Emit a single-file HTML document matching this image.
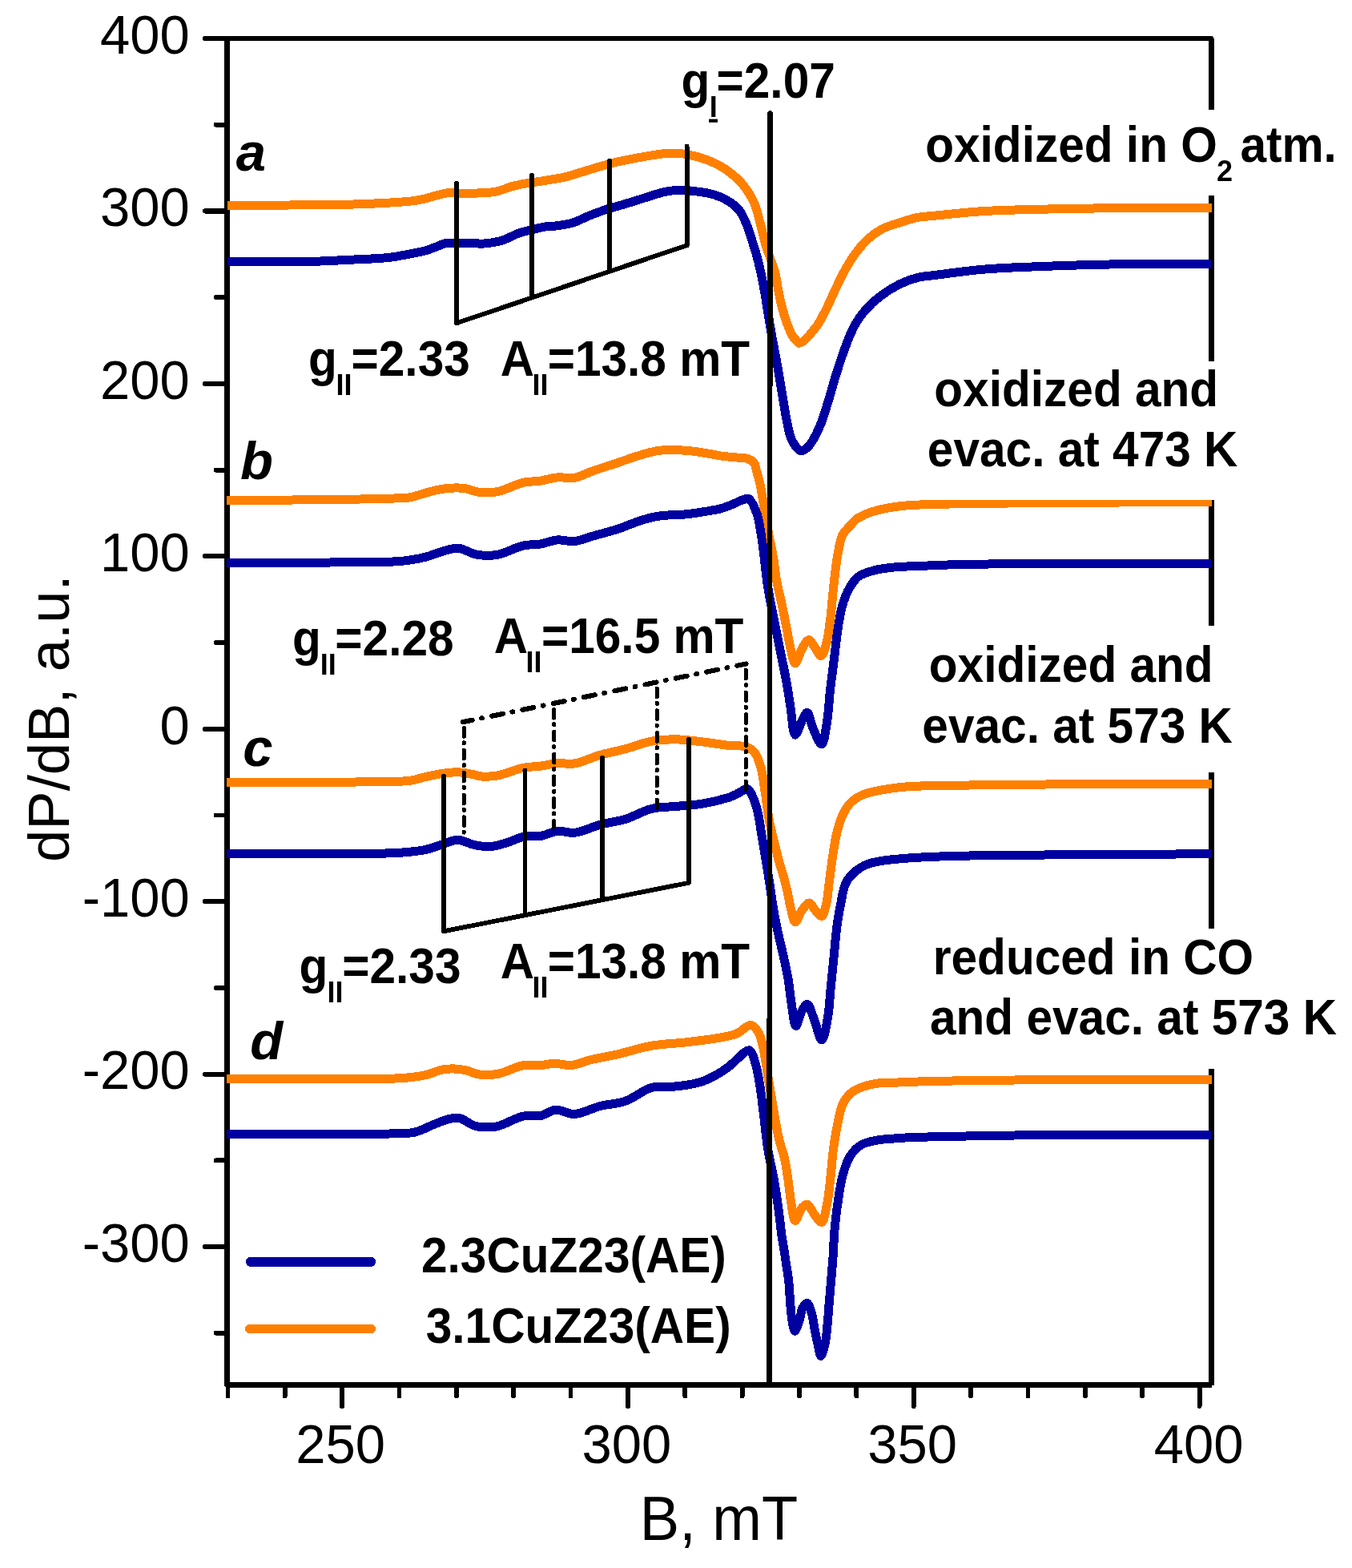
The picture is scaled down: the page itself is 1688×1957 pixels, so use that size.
<!DOCTYPE html>
<html><head><meta charset="utf-8"><title>EPR spectra</title>
<style>html,body{margin:0;padding:0;background:#fff;}svg{display:block;}</style>
</head><body>
<svg width="1688" height="1957" viewBox="0 0 1688 1957">
<rect width="1688" height="1957" fill="#fff"/>
<g font-family="'Liberation Sans', Arial, sans-serif" fill="#000">
<g shape-rendering="crispEdges">
<path d="M283.6 48.0 L283.6 1728.5 L1512.6 1728.5" fill="none" stroke="#000" stroke-width="6.7" stroke-linejoin="round"/>
<line x1="256.0" y1="48.0" x2="1512.6" y2="48.0" stroke="#000" stroke-width="5.8" stroke-linecap="round"/>
<line x1="1512.6" y1="48.0" x2="1512.6" y2="1728.5" stroke="#000" stroke-width="6.6" stroke-linecap="butt"/>
<line x1="256.0" y1="48.0" x2="283.6" y2="48.0" stroke="#000" stroke-width="6.2" stroke-linecap="round"/>
<line x1="256.0" y1="263.4" x2="283.6" y2="263.4" stroke="#000" stroke-width="6.2" stroke-linecap="round"/>
<line x1="256.0" y1="478.9" x2="283.6" y2="478.9" stroke="#000" stroke-width="6.2" stroke-linecap="round"/>
<line x1="256.0" y1="694.3" x2="283.6" y2="694.3" stroke="#000" stroke-width="6.2" stroke-linecap="round"/>
<line x1="256.0" y1="909.7" x2="283.6" y2="909.7" stroke="#000" stroke-width="6.2" stroke-linecap="round"/>
<line x1="256.0" y1="1125.2" x2="283.6" y2="1125.2" stroke="#000" stroke-width="6.2" stroke-linecap="round"/>
<line x1="256.0" y1="1340.6" x2="283.6" y2="1340.6" stroke="#000" stroke-width="6.2" stroke-linecap="round"/>
<line x1="256.0" y1="1556.0" x2="283.6" y2="1556.0" stroke="#000" stroke-width="6.2" stroke-linecap="round"/>
<line x1="269.5" y1="155.7" x2="283.6" y2="155.7" stroke="#000" stroke-width="5.8" stroke-linecap="round"/>
<line x1="269.5" y1="371.1" x2="283.6" y2="371.1" stroke="#000" stroke-width="5.8" stroke-linecap="round"/>
<line x1="269.5" y1="586.6" x2="283.6" y2="586.6" stroke="#000" stroke-width="5.8" stroke-linecap="round"/>
<line x1="269.5" y1="802.0" x2="283.6" y2="802.0" stroke="#000" stroke-width="5.8" stroke-linecap="round"/>
<line x1="269.5" y1="1017.4" x2="283.6" y2="1017.4" stroke="#000" stroke-width="5.8" stroke-linecap="round"/>
<line x1="269.5" y1="1232.9" x2="283.6" y2="1232.9" stroke="#000" stroke-width="5.8" stroke-linecap="round"/>
<line x1="269.5" y1="1448.3" x2="283.6" y2="1448.3" stroke="#000" stroke-width="5.8" stroke-linecap="round"/>
<line x1="269.5" y1="1663.7" x2="283.6" y2="1663.7" stroke="#000" stroke-width="5.8" stroke-linecap="round"/>
<line x1="284.4" y1="1728.5" x2="284.4" y2="1742.5" stroke="#000" stroke-width="5.8" stroke-linecap="round"/>
<line x1="355.7" y1="1728.5" x2="355.7" y2="1742.5" stroke="#000" stroke-width="5.8" stroke-linecap="round"/>
<line x1="427.1" y1="1728.5" x2="427.1" y2="1755.0" stroke="#000" stroke-width="6.0" stroke-linecap="round"/>
<line x1="498.5" y1="1728.5" x2="498.5" y2="1742.5" stroke="#000" stroke-width="5.8" stroke-linecap="round"/>
<line x1="569.8" y1="1728.5" x2="569.8" y2="1742.5" stroke="#000" stroke-width="5.8" stroke-linecap="round"/>
<line x1="641.2" y1="1728.5" x2="641.2" y2="1742.5" stroke="#000" stroke-width="5.8" stroke-linecap="round"/>
<line x1="712.5" y1="1728.5" x2="712.5" y2="1742.5" stroke="#000" stroke-width="5.8" stroke-linecap="round"/>
<line x1="783.9" y1="1728.5" x2="783.9" y2="1755.0" stroke="#000" stroke-width="6.0" stroke-linecap="round"/>
<line x1="855.3" y1="1728.5" x2="855.3" y2="1742.5" stroke="#000" stroke-width="5.8" stroke-linecap="round"/>
<line x1="926.6" y1="1728.5" x2="926.6" y2="1742.5" stroke="#000" stroke-width="5.8" stroke-linecap="round"/>
<line x1="998.0" y1="1728.5" x2="998.0" y2="1742.5" stroke="#000" stroke-width="5.8" stroke-linecap="round"/>
<line x1="1069.3" y1="1728.5" x2="1069.3" y2="1742.5" stroke="#000" stroke-width="5.8" stroke-linecap="round"/>
<line x1="1140.7" y1="1728.5" x2="1140.7" y2="1755.0" stroke="#000" stroke-width="6.0" stroke-linecap="round"/>
<line x1="1212.1" y1="1728.5" x2="1212.1" y2="1742.5" stroke="#000" stroke-width="5.8" stroke-linecap="round"/>
<line x1="1283.4" y1="1728.5" x2="1283.4" y2="1742.5" stroke="#000" stroke-width="5.8" stroke-linecap="round"/>
<line x1="1354.8" y1="1728.5" x2="1354.8" y2="1742.5" stroke="#000" stroke-width="5.8" stroke-linecap="round"/>
<line x1="1426.1" y1="1728.5" x2="1426.1" y2="1742.5" stroke="#000" stroke-width="5.8" stroke-linecap="round"/>
<line x1="1497.5" y1="1728.5" x2="1497.5" y2="1755.0" stroke="#000" stroke-width="6.0" stroke-linecap="round"/>
<path d="M283.7 256.4 C309.8 256.3 334.8 256.3 362.0 256.0 C391.4 255.7 426.6 255.7 454.0 254.6 C476.1 253.7 500.4 252.5 514.0 250.9 C521.1 250.1 524.8 249.3 530.0 248.1 C535.1 247.0 539.9 245.2 544.8 244.0 C549.7 242.8 554.3 241.2 559.6 240.7 C565.6 240.1 572.6 241.3 578.9 241.3 C584.9 241.3 590.4 241.3 596.6 241.0 C603.6 240.7 611.6 240.6 618.9 239.2 C626.4 237.7 634.1 234.0 641.1 232.2 C647.3 230.6 652.8 229.6 658.9 228.5 C665.2 227.4 671.0 226.9 678.1 225.8 C686.9 224.4 699.6 222.4 707.7 220.4 C713.5 219.0 717.1 217.5 722.5 215.9 C729.2 213.9 737.3 211.4 744.7 209.2 C752.1 207.0 759.2 204.8 767.0 202.9 C775.5 200.8 784.0 199.2 793.7 197.4 C805.2 195.3 821.2 192.3 831.7 191.5 C839.1 191.0 844.3 191.1 850.6 191.7 C857.1 192.4 864.1 194.0 870.0 195.5 C875.2 196.9 879.6 198.3 884.3 200.2 C889.1 202.1 893.9 204.2 898.6 206.8 C903.5 209.6 908.3 212.8 912.9 216.5 C917.8 220.5 922.8 224.6 927.2 230.1 C932.4 236.5 937.8 244.8 941.5 253.0 C945.3 261.4 947.1 271.2 949.5 280.0 C951.7 288.2 953.3 296.6 955.5 304.0 C957.4 310.5 959.5 315.8 961.5 322.0 C963.7 328.5 966.4 335.2 968.1 342.0 C969.8 348.7 970.5 355.7 971.8 362.5 C973.2 369.3 974.4 376.1 976.2 382.9 C978.0 389.8 980.3 397.1 982.6 403.4 C984.6 408.9 986.8 415.1 989.0 418.7 C990.4 421.0 991.7 422.2 993.2 423.8 C994.6 425.4 996.0 427.9 997.7 428.2 C999.3 428.5 1001.3 426.9 1003.0 425.8 C1005.0 424.5 1006.9 422.4 1008.7 420.5 C1010.6 418.5 1012.2 416.3 1014.0 414.0 C1016.0 411.5 1018.0 409.6 1020.3 406.3 C1023.8 401.1 1028.2 392.5 1032.0 385.0 C1036.0 377.0 1039.7 368.0 1043.6 359.8 C1047.4 351.8 1051.0 344.0 1055.3 336.5 C1059.5 329.1 1063.9 321.7 1068.9 315.1 C1073.7 308.8 1078.7 302.6 1084.4 297.6 C1089.8 292.8 1095.5 288.8 1102.0 285.5 C1108.9 282.0 1117.5 279.7 1125.0 277.3 C1132.1 275.0 1139.2 272.6 1146.0 271.3 C1152.1 270.1 1156.0 270.3 1163.7 269.5 C1178.4 268.1 1205.2 265.0 1227.4 263.6 C1251.7 262.1 1278.3 261.7 1303.8 261.1 C1329.3 260.5 1354.7 260.1 1380.2 259.8 C1405.7 259.5 1433.1 259.6 1456.6 259.5 C1476.7 259.4 1493.9 259.4 1512.6 259.3" fill="none" stroke="#ff8000" stroke-width="11.0" stroke-linejoin="round"/>
<path d="M283.7 326.4 C320.6 326.3 368.0 326.8 394.5 326.2 C409.3 325.8 416.0 325.3 429.0 324.6 C445.7 323.7 470.5 323.2 486.5 321.3 C498.1 319.9 508.4 317.5 516.4 316.0 C521.8 315.0 525.4 314.5 530.0 313.2 C534.9 311.8 540.1 309.7 544.8 308.0 C549.0 306.5 551.7 304.5 556.7 303.6 C564.8 302.2 580.5 303.5 589.2 303.6 C595.1 303.7 598.6 304.4 604.0 304.0 C610.7 303.5 619.0 302.4 626.3 300.3 C633.8 298.1 641.8 293.0 648.5 290.7 C653.9 288.9 658.2 288.2 663.3 287.0 C668.7 285.7 674.8 283.9 680.0 283.1 C684.5 282.4 688.0 282.7 692.9 282.1 C699.3 281.3 707.8 280.3 715.1 278.1 C722.6 275.8 729.8 271.4 737.3 268.5 C744.7 265.6 752.3 262.9 759.6 260.6 C766.5 258.4 773.9 256.5 780.0 254.7 C785.0 253.2 788.0 252.2 793.7 250.5 C803.2 247.6 821.1 241.2 831.7 239.1 C839.0 237.7 844.3 237.2 850.6 237.2 C857.0 237.2 864.0 238.3 870.0 239.0 C875.1 239.6 879.6 240.1 884.3 241.2 C889.1 242.3 893.9 243.6 898.6 245.5 C903.5 247.5 908.6 250.2 912.9 253.3 C916.9 256.2 920.5 259.2 923.6 263.3 C927.1 267.9 929.7 274.1 932.2 280.1 C935.0 286.7 937.2 294.5 939.4 301.6 C941.6 308.5 943.7 315.1 945.5 322.0 C947.4 328.9 949.0 336.0 950.5 343.0 C952.0 350.0 953.3 357.1 954.5 364.0 C955.7 370.7 956.7 377.3 957.8 384.0 C958.9 390.7 959.9 397.4 961.0 404.0 C962.1 410.6 963.3 417.2 964.5 423.8 C965.7 430.5 967.1 437.4 968.3 444.0 C969.5 450.4 970.6 456.2 971.8 463.0 C973.2 470.8 974.5 479.1 976.0 488.0 C977.7 498.2 979.5 510.7 981.5 520.9 C983.3 529.9 984.9 539.7 987.3 546.1 C988.9 550.3 990.3 553.2 992.5 556.0 C994.6 558.7 997.4 562.6 1000.0 562.9 C1002.4 563.2 1005.2 560.9 1007.5 559.0 C1010.1 556.8 1012.2 553.7 1014.5 550.0 C1017.7 544.9 1021.2 537.8 1024.2 530.6 C1027.8 522.0 1030.8 511.5 1033.9 501.5 C1037.2 490.9 1040.1 479.5 1043.6 468.4 C1047.2 456.9 1051.2 444.3 1055.3 433.5 C1059.0 423.8 1062.4 414.4 1066.9 406.3 C1070.9 399.1 1075.2 393.0 1080.5 386.9 C1086.1 380.5 1092.9 374.4 1100.0 369.0 C1107.3 363.5 1115.9 358.2 1124.0 354.3 C1131.4 350.7 1139.4 347.9 1146.5 346.2 C1152.5 344.7 1156.2 344.9 1163.7 343.9 C1178.2 342.1 1205.2 338.1 1227.4 336.2 C1251.7 334.1 1278.3 333.4 1303.8 332.4 C1329.3 331.4 1354.7 330.6 1380.2 330.1 C1405.7 329.6 1433.1 329.7 1456.6 329.6 C1476.7 329.5 1493.9 329.4 1512.6 329.3" fill="none" stroke="#0000a0" stroke-width="11.0" stroke-linejoin="round"/>
<path d="M283.0 624.4 C322.3 624.2 365.2 624.2 400.8 623.8 C430.2 623.4 461.0 622.9 481.4 622.2 C493.9 621.8 502.6 622.3 511.6 620.8 C519.1 619.6 525.1 616.9 531.8 615.1 C538.5 613.4 545.3 611.3 551.9 610.3 C558.1 609.3 564.6 608.9 570.0 608.9 C574.4 608.9 577.8 609.1 582.1 609.9 C587.1 610.8 592.3 613.7 598.2 614.4 C605.1 615.2 613.1 615.2 621.3 613.6 C631.2 611.7 643.6 604.5 653.3 602.3 C661.0 600.6 667.5 601.2 674.6 600.1 C681.7 599.0 688.8 596.5 696.0 595.9 C703.1 595.3 710.3 597.5 717.3 596.3 C724.5 595.1 730.8 591.2 738.6 588.4 C748.2 585.0 759.9 581.3 770.6 577.7 C781.3 574.2 793.0 569.8 802.6 567.1 C810.4 564.9 816.0 563.1 823.9 562.2 C833.4 561.1 845.3 561.5 855.9 562.2 C866.6 562.9 879.8 565.4 887.9 566.7 C892.9 567.5 895.5 568.3 900.0 569.0 C905.5 569.8 912.7 570.4 918.4 570.9 C923.3 571.4 928.2 570.8 932.2 572.1 C935.7 573.2 939.4 575.0 941.4 577.6 C943.3 580.0 943.3 583.2 944.3 586.8 C945.8 591.9 947.8 599.0 949.2 605.2 C950.5 611.3 951.4 617.5 952.4 623.6 C953.4 629.7 954.1 635.3 955.2 642.0 C956.6 650.3 958.5 660.4 960.3 669.6 C962.1 678.8 964.2 688.0 965.8 697.2 C967.3 706.4 967.9 715.4 969.6 724.8 C971.4 734.6 974.2 744.9 976.3 754.8 C978.4 764.6 980.3 774.5 982.1 783.9 C983.8 792.6 985.1 801.4 987.0 809.1 C988.7 815.9 990.4 827.7 992.8 827.9 C995.3 828.1 998.4 814.3 1001.6 809.1 C1004.1 805.0 1007.0 798.8 1009.7 798.7 C1012.2 798.7 1014.7 804.3 1017.1 807.5 C1019.7 810.9 1022.6 818.8 1024.9 818.6 C1027.5 818.3 1029.9 809.3 1031.7 803.3 C1034.1 795.3 1035.1 784.6 1036.5 774.2 C1038.1 762.2 1039.0 748.2 1040.4 735.3 C1041.9 722.3 1043.1 708.5 1045.2 696.5 C1047.1 686.1 1048.4 674.6 1052.0 667.4 C1054.6 662.3 1058.7 659.4 1061.7 656.0 C1064.1 653.2 1066.0 650.5 1068.4 648.5 C1070.6 646.7 1072.9 645.7 1075.3 644.5 C1077.7 643.2 1079.9 642.1 1082.7 641.0 C1086.2 639.6 1090.3 638.2 1094.8 637.0 C1100.5 635.5 1107.4 634.1 1114.2 633.0 C1121.7 631.8 1127.5 631.2 1138.0 630.5 C1158.2 629.2 1192.4 628.9 1227.0 628.3 C1275.2 627.5 1348.5 627.3 1400.0 627.0 C1441.7 626.8 1475.3 626.7 1513.0 626.5" fill="none" stroke="#ff8000" stroke-width="11.0" stroke-linejoin="round"/>
<path d="M283.0 702.3 C335.7 702.2 400.8 702.5 441.1 701.9 C466.0 701.5 484.9 701.9 501.5 700.3 C513.4 699.1 522.8 697.4 531.8 695.1 C539.3 693.2 545.1 690.2 551.9 688.4 C558.5 686.6 565.4 683.7 572.0 684.2 C578.8 684.7 587.0 690.1 592.2 691.5 C595.4 692.3 596.7 692.7 600.0 692.9 C605.3 693.3 613.6 693.7 621.3 692.3 C631.0 690.5 643.6 683.1 653.3 681.0 C661.0 679.3 667.5 680.2 674.6 679.0 C681.8 677.8 688.8 674.5 696.0 673.9 C703.1 673.4 710.3 676.3 717.3 675.6 C724.5 674.9 730.8 671.7 738.6 669.5 C748.2 666.8 760.0 663.9 770.6 660.5 C781.3 657.0 792.9 651.7 802.6 648.8 C810.3 646.5 816.0 645.0 823.9 643.9 C833.4 642.5 845.3 643.0 855.9 641.9 C866.6 640.8 879.8 638.6 887.9 637.2 C892.9 636.3 895.9 635.9 900.0 634.8 C904.5 633.5 909.2 631.6 913.8 629.8 C918.4 628.0 923.6 624.9 927.6 623.8 C930.4 623.0 932.7 621.5 935.0 622.7 C938.9 624.7 942.9 635.5 945.3 642.0 C947.5 648.1 948.1 654.3 949.2 660.4 C950.3 666.5 951.1 672.7 952.0 678.8 C952.8 684.9 953.5 690.4 954.3 697.2 C955.3 705.5 956.3 716.3 957.5 724.8 C958.5 732.1 959.4 737.2 960.8 745.0 C962.8 755.9 965.9 770.9 968.5 783.9 C971.1 796.8 973.9 810.7 976.3 822.7 C978.4 833.1 980.3 841.9 982.1 851.8 C983.9 862.0 985.3 872.3 987.0 882.9 C988.8 894.1 989.8 916.8 992.8 917.2 C995.1 917.5 998.8 904.0 1001.6 899.0 C1003.7 895.2 1005.8 889.2 1007.8 889.4 C1010.4 889.7 1012.2 902.5 1015.1 909.0 C1018.1 915.7 1023.0 929.3 1025.8 928.9 C1029.0 928.5 1030.9 910.7 1032.6 900.4 C1034.6 888.5 1035.0 874.5 1036.5 861.6 C1038.0 848.6 1039.8 835.7 1041.4 822.7 C1043.0 809.8 1044.3 795.9 1046.2 783.9 C1047.9 773.5 1049.4 763.4 1052.0 754.8 C1054.2 747.5 1056.5 741.2 1059.8 735.3 C1063.0 729.6 1066.5 723.7 1071.5 719.8 C1076.7 715.8 1084.0 713.9 1090.9 712.0 C1098.2 710.0 1105.5 709.1 1114.2 708.2 C1125.0 707.0 1137.7 706.9 1151.0 706.3 C1166.6 705.6 1182.0 704.9 1201.9 704.5 C1230.0 703.9 1263.8 703.7 1303.8 703.5 C1361.1 703.2 1443.3 703.4 1513.0 703.3" fill="none" stroke="#0000a0" stroke-width="11.0" stroke-linejoin="round"/>
<path d="M283.0 976.7 C308.9 976.7 332.4 976.8 360.6 976.7 C394.2 976.5 443.5 976.3 471.3 975.7 C488.1 975.3 500.5 975.8 511.6 974.3 C519.5 973.2 525.1 971.0 531.8 969.5 C538.5 968.0 545.2 966.5 551.9 965.5 C558.6 964.6 565.3 963.6 572.0 963.8 C578.7 964.0 587.1 965.8 592.2 966.9 C595.4 967.6 596.7 968.6 600.0 968.9 C605.3 969.4 613.6 969.2 621.3 967.9 C631.0 966.2 643.6 960.2 653.3 958.3 C661.0 956.8 667.5 957.0 674.6 956.1 C681.7 955.2 688.9 953.2 696.0 952.7 C703.1 952.2 709.6 954.1 717.3 952.9 C727.0 951.4 738.6 945.4 749.3 942.3 C759.9 939.3 770.7 937.4 781.3 934.6 C792.0 931.7 802.5 927.1 813.3 925.2 C823.9 923.3 834.6 922.8 845.3 922.9 C855.9 923.0 866.6 924.7 877.2 925.9 C887.9 927.1 899.3 929.2 909.2 930.3 C917.6 931.2 926.8 930.0 932.7 932.3 C937.0 934.0 940.0 936.4 942.7 940.0 C946.2 944.6 948.2 951.8 950.2 958.9 C952.5 967.3 953.4 977.1 955.0 987.3 C956.9 999.0 958.4 1013.5 960.6 1025.1 C962.6 1035.3 965.1 1044.5 967.3 1053.4 C969.2 1061.4 970.9 1068.9 972.9 1076.1 C974.7 1082.7 976.9 1088.7 978.6 1095.0 C980.3 1101.3 981.9 1107.6 983.3 1113.9 C984.7 1120.2 985.5 1126.6 987.1 1132.8 C988.7 1138.9 990.3 1150.6 992.8 1150.9 C995.1 1151.1 998.1 1140.2 1001.3 1136.0 C1004.1 1132.4 1007.6 1126.9 1010.4 1127.0 C1013.0 1127.1 1014.9 1132.8 1017.4 1135.5 C1020.0 1138.3 1023.6 1143.9 1025.9 1143.4 C1028.5 1142.8 1030.0 1134.7 1031.5 1129.0 C1033.5 1121.2 1034.0 1110.1 1035.3 1100.7 C1036.6 1091.2 1037.7 1081.7 1039.1 1072.3 C1040.5 1062.8 1041.8 1052.9 1043.8 1044.0 C1045.6 1036.0 1047.5 1028.2 1050.4 1021.3 C1053.0 1015.1 1055.8 1009.1 1059.9 1004.3 C1064.0 999.6 1069.4 995.7 1075.0 992.9 C1080.7 990.0 1087.3 988.8 1093.9 987.3 C1101.1 985.6 1109.4 984.5 1116.6 983.5 C1123.1 982.6 1127.4 982.1 1135.3 981.6 C1149.1 980.7 1170.0 980.6 1192.2 980.2 C1223.6 979.6 1262.4 979.3 1305.9 979.0 C1364.7 978.6 1444.0 978.5 1513.0 978.2" fill="none" stroke="#ff8000" stroke-width="11.0" stroke-linejoin="round"/>
<path d="M283.0 1065.8 C342.4 1065.7 423.0 1066.1 461.3 1065.4 C479.5 1065.1 489.2 1065.1 501.5 1064.1 C512.1 1063.3 522.2 1062.4 531.0 1060.5 C538.3 1059.0 544.0 1056.5 550.7 1054.5 C557.5 1052.4 564.6 1048.3 571.5 1048.3 C578.4 1048.3 585.2 1053.1 592.2 1054.5 C599.0 1055.9 606.0 1057.1 612.9 1056.6 C619.9 1056.1 626.8 1053.5 633.7 1051.4 C640.7 1049.3 647.4 1045.4 654.4 1044.1 C661.1 1042.9 667.8 1044.7 674.6 1043.6 C681.7 1042.5 688.8 1037.9 696.0 1037.2 C703.0 1036.5 709.6 1040.1 717.3 1039.3 C727.0 1038.3 738.6 1032.2 749.3 1029.3 C759.9 1026.5 770.8 1025.4 781.3 1022.2 C792.1 1018.9 802.4 1012.1 813.3 1009.5 C823.8 1006.9 834.6 1007.4 845.3 1006.3 C855.9 1005.2 866.6 1004.9 877.2 1003.1 C887.9 1001.3 901.7 997.9 909.2 995.5 C913.5 994.1 916.1 992.9 919.0 991.5 C921.6 990.2 923.6 988.7 926.0 987.5 C928.3 986.4 930.9 983.9 933.0 984.6 C936.0 985.5 938.7 992.0 940.8 996.7 C943.3 1002.1 944.9 1008.6 946.5 1015.6 C948.5 1024.0 949.6 1034.5 951.2 1044.0 C952.8 1053.4 954.3 1062.9 955.9 1072.3 C957.5 1081.8 959.0 1090.6 960.6 1100.7 C962.4 1112.4 964.2 1126.8 966.3 1138.5 C968.1 1148.6 970.0 1157.4 972.0 1166.8 C974.1 1176.3 976.5 1185.7 978.6 1195.2 C980.6 1204.7 982.7 1214.1 984.3 1223.6 C985.9 1233.0 986.5 1242.5 988.1 1251.9 C989.7 1261.4 991.2 1280.3 993.7 1280.5 C995.8 1280.7 998.4 1266.2 1001.3 1261.4 C1003.3 1258.0 1005.8 1253.3 1007.9 1253.6 C1010.9 1254.0 1013.6 1265.3 1016.4 1272.0 C1019.6 1279.9 1023.1 1298.1 1025.9 1298.0 C1028.8 1297.9 1031.6 1280.7 1033.4 1270.8 C1035.5 1259.3 1035.9 1245.6 1037.2 1233.0 C1038.5 1220.4 1039.7 1207.8 1041.0 1195.2 C1042.3 1182.6 1043.2 1169.1 1044.8 1157.4 C1046.2 1147.2 1047.6 1138.3 1049.5 1129.0 C1051.4 1119.9 1052.5 1109.2 1056.1 1102.0 C1059.0 1096.2 1063.0 1091.9 1067.4 1088.0 C1071.8 1084.1 1077.3 1081.0 1082.7 1078.7 C1088.1 1076.5 1093.6 1075.6 1100.0 1074.5 C1107.6 1073.2 1116.2 1072.5 1125.3 1071.7 C1135.9 1070.8 1147.3 1070.1 1160.0 1069.5 C1175.3 1068.8 1193.2 1068.4 1210.6 1068.0 C1229.0 1067.6 1244.6 1067.5 1267.5 1067.3 C1302.5 1067.0 1357.6 1066.6 1400.0 1066.3 C1439.2 1066.1 1475.3 1066.0 1513.0 1065.8" fill="none" stroke="#0000a0" stroke-width="11.0" stroke-linejoin="round"/>
<path d="M283.0 1346.8 C329.0 1346.7 381.2 1346.7 421.0 1346.4 C451.4 1346.2 481.1 1347.0 501.5 1345.6 C514.1 1344.7 522.8 1343.6 531.8 1341.6 C539.3 1339.9 545.7 1336.3 551.9 1335.1 C557.0 1334.1 561.1 1333.8 566.0 1333.9 C571.2 1334.0 576.8 1334.7 582.1 1335.9 C587.5 1337.1 592.3 1340.2 598.2 1341.0 C605.1 1342.0 613.1 1341.8 621.3 1340.4 C631.2 1338.7 643.6 1331.3 653.3 1329.7 C661.0 1328.4 667.9 1330.2 674.6 1329.7 C680.6 1329.3 685.7 1327.3 691.7 1327.2 C698.4 1327.1 705.6 1330.1 713.0 1329.5 C721.2 1328.8 729.6 1324.7 738.6 1322.5 C748.6 1320.1 759.2 1318.5 770.6 1315.9 C783.8 1312.9 799.0 1307.7 813.3 1305.2 C827.4 1302.7 841.7 1302.6 855.9 1300.9 C870.1 1299.2 886.9 1297.4 898.6 1295.2 C907.0 1293.6 913.3 1292.6 919.9 1289.9 C926.3 1287.3 932.7 1278.8 937.5 1279.4 C941.4 1279.9 944.7 1284.9 947.2 1289.1 C950.2 1294.2 951.3 1301.3 953.0 1308.5 C955.0 1317.2 956.3 1328.0 957.9 1337.7 C959.5 1347.4 961.1 1357.1 962.7 1366.8 C964.3 1376.5 965.8 1386.2 967.6 1395.9 C969.4 1405.6 971.2 1416.3 973.4 1425.0 C975.2 1432.2 977.5 1437.3 979.2 1444.5 C981.2 1453.2 982.6 1463.9 984.1 1473.6 C985.6 1483.3 986.4 1493.9 988.0 1502.7 C989.4 1510.2 990.4 1523.1 992.8 1523.4 C995.0 1523.7 998.3 1510.3 1001.6 1507.0 C1003.7 1504.9 1006.1 1502.9 1008.3 1503.4 C1011.4 1504.2 1014.0 1512.5 1017.1 1516.3 C1019.9 1519.7 1023.4 1526.0 1025.8 1525.4 C1029.1 1524.6 1030.9 1510.8 1032.6 1502.7 C1034.5 1493.7 1035.3 1484.0 1036.5 1473.6 C1037.9 1461.6 1038.8 1446.8 1040.4 1434.8 C1041.8 1424.4 1043.2 1415.1 1045.2 1405.6 C1047.1 1396.3 1048.6 1385.6 1052.0 1378.4 C1054.6 1372.8 1057.7 1368.5 1061.7 1364.9 C1065.5 1361.4 1070.2 1359.2 1075.3 1357.1 C1081.1 1354.8 1088.3 1353.1 1094.8 1352.2 C1101.2 1351.3 1108.7 1351.8 1114.2 1351.5 C1118.3 1351.3 1120.0 1351.0 1125.0 1350.8 C1136.5 1350.3 1161.1 1349.5 1182.0 1349.1 C1207.5 1348.6 1235.5 1348.2 1267.0 1348.0 C1306.4 1347.7 1357.5 1347.8 1400.0 1347.8 C1439.2 1347.8 1475.3 1347.8 1513.0 1347.8" fill="none" stroke="#ff8000" stroke-width="11.0" stroke-linejoin="round"/>
<path d="M283.0 1415.5 C349.1 1415.4 441.8 1416.2 481.4 1415.1 C498.4 1414.6 507.0 1415.5 517.7 1413.1 C526.7 1411.1 534.1 1406.3 541.8 1403.4 C548.8 1400.7 556.0 1397.4 562.0 1396.2 C566.5 1395.3 569.8 1394.8 574.1 1395.7 C579.7 1396.9 586.4 1403.2 592.2 1405.0 C597.1 1406.5 601.5 1406.7 606.3 1406.8 C611.2 1406.9 615.5 1407.0 621.3 1405.7 C630.1 1403.7 643.6 1395.1 653.3 1393.1 C661.0 1391.6 667.8 1393.9 674.6 1392.6 C681.3 1391.3 687.0 1385.7 693.8 1385.2 C701.2 1384.7 708.9 1390.8 717.3 1390.5 C727.2 1390.1 738.6 1383.2 749.3 1380.5 C759.9 1377.8 770.9 1377.8 781.3 1374.1 C792.2 1370.3 802.3 1360.5 813.3 1357.5 C823.7 1354.7 834.7 1357.1 845.3 1355.8 C856.0 1354.5 866.8 1353.4 877.2 1349.6 C888.2 1345.6 901.6 1337.4 909.2 1331.9 C914.0 1328.5 916.0 1325.4 920.0 1322.1 C924.6 1318.4 931.6 1309.9 935.5 1310.9 C939.4 1311.9 941.2 1321.4 943.3 1328.0 C946.0 1336.3 947.4 1346.7 949.1 1357.1 C951.0 1369.1 952.4 1383.0 954.0 1395.9 C955.6 1408.9 956.7 1421.9 958.8 1434.8 C960.9 1447.8 964.3 1460.6 966.6 1473.6 C968.9 1486.5 970.8 1500.3 972.4 1512.4 C973.8 1522.9 974.7 1533.1 976.0 1542.0 C977.1 1549.3 978.3 1555.6 979.3 1562.0 C980.2 1567.8 980.8 1573.0 981.7 1578.8 C982.6 1585.1 984.0 1591.8 984.7 1598.3 C985.4 1604.8 985.6 1611.2 986.1 1617.7 C986.6 1624.2 987.0 1631.1 987.6 1637.1 C988.1 1642.3 988.6 1647.4 989.5 1651.7 C990.3 1655.3 991.2 1661.3 992.4 1661.4 C993.9 1661.5 996.7 1651.7 998.3 1646.8 C999.9 1642.0 1000.1 1635.8 1002.1 1632.2 C1003.5 1629.6 1005.9 1626.2 1007.5 1626.4 C1009.5 1626.7 1011.4 1632.9 1012.8 1637.1 C1014.6 1642.5 1015.4 1650.0 1016.7 1656.5 C1018.0 1663.0 1019.2 1669.7 1020.6 1675.9 C1021.9 1681.6 1023.4 1692.4 1025.0 1692.4 C1026.6 1692.4 1029.0 1682.0 1030.3 1675.9 C1031.9 1668.7 1032.4 1659.8 1033.2 1651.7 C1034.0 1643.6 1034.4 1635.9 1035.1 1627.4 C1035.9 1618.1 1036.8 1608.0 1037.6 1598.3 C1038.4 1588.6 1039.3 1579.4 1040.0 1569.1 C1040.8 1557.4 1041.1 1544.3 1042.3 1531.8 C1043.5 1519.0 1045.3 1505.0 1047.2 1493.0 C1048.9 1482.6 1050.3 1472.7 1053.0 1463.9 C1055.3 1456.1 1057.7 1448.5 1061.7 1442.5 C1065.3 1437.0 1069.9 1432.1 1075.3 1428.9 C1080.9 1425.6 1088.2 1424.4 1094.8 1423.1 C1101.2 1421.8 1108.7 1421.7 1114.2 1421.2 C1118.3 1420.8 1120.0 1420.6 1125.0 1420.3 C1136.5 1419.6 1161.1 1418.9 1182.0 1418.4 C1207.5 1417.8 1235.5 1417.3 1267.0 1417.0 C1306.4 1416.6 1357.5 1416.7 1400.0 1416.6 C1439.2 1416.5 1475.3 1416.6 1513.0 1416.6" fill="none" stroke="#0000a0" stroke-width="11.0" stroke-linejoin="round"/>
<line x1="570.0" y1="228.5" x2="570.0" y2="403.3" stroke="#000" stroke-width="5.8" stroke-linecap="round"/>
<line x1="664.0" y1="218.5" x2="664.0" y2="371.6" stroke="#000" stroke-width="5.8" stroke-linecap="round"/>
<line x1="761.0" y1="200.5" x2="761.0" y2="338.8" stroke="#000" stroke-width="5.8" stroke-linecap="round"/>
<line x1="857.6" y1="182.5" x2="857.6" y2="306.2" stroke="#000" stroke-width="5.8" stroke-linecap="round"/>
<line x1="570.0" y1="403.3" x2="857.6" y2="306.2" stroke="#000" stroke-width="5.8" stroke-linecap="round"/>
<line x1="553.9" y1="968.5" x2="553.9" y2="1162.3" stroke="#000" stroke-width="5.8" stroke-linecap="round"/>
<line x1="655.4" y1="961.5" x2="655.4" y2="1142.2" stroke="#000" stroke-width="5.8" stroke-linecap="round"/>
<line x1="752.0" y1="945.5" x2="752.0" y2="1123.1" stroke="#000" stroke-width="5.8" stroke-linecap="round"/>
<line x1="860.0" y1="922.5" x2="860.0" y2="1101.8" stroke="#000" stroke-width="5.8" stroke-linecap="round"/>
<line x1="553.9" y1="1162.3" x2="860.0" y2="1101.8" stroke="#000" stroke-width="5.8" stroke-linecap="round"/>
<line x1="579.3" y1="900.9" x2="579.3" y2="1043.4" stroke="#000" stroke-width="5.0" stroke-linecap="round" stroke-dasharray="10.6 7.6 1.1 8.5" stroke-dashoffset="20.1"/>
<line x1="691.6" y1="877.8" x2="691.6" y2="1032.5" stroke="#000" stroke-width="5.0" stroke-linecap="round" stroke-dasharray="10.6 7.6 1.1 8.5" stroke-dashoffset="20.1"/>
<line x1="820.3" y1="851.3" x2="820.3" y2="1010.0" stroke="#000" stroke-width="5.0" stroke-linecap="round" stroke-dasharray="10.6 7.6 1.1 8.5" stroke-dashoffset="20.1"/>
<line x1="931.4" y1="828.5" x2="931.4" y2="993.0" stroke="#000" stroke-width="5.0" stroke-linecap="round" stroke-dasharray="10.6 7.6 1.1 8.5" stroke-dashoffset="20.1"/>
<line x1="577.8" y1="901.2" x2="931.4" y2="828.5" stroke="#000" stroke-width="6.2" stroke-linecap="round" stroke-dasharray="14.2 11.7 0.8 12.4" stroke-dashoffset="2.1"/>
<line x1="961.4" y1="141.6" x2="960.6" y2="1727.0" stroke="#000" stroke-width="6.6" stroke-linecap="round"/>
<rect x="1150" y="137.0" width="538" height="107.0" fill="#fff"/>
<rect x="1150" y="451.0" width="538" height="173.0" fill="#fff"/>
<rect x="1150" y="781.0" width="538" height="183.0" fill="#fff"/>
<rect x="1150" y="1158.5" width="538" height="175.5" fill="#fff"/>
</g>
<text transform="translate(125.03 66.90) scale(1 1.030)" font-size="67.0" font-weight="normal" font-style="normal">400</text>
<text transform="translate(125.03 282.33) scale(1 1.030)" font-size="67.0" font-weight="normal" font-style="normal">300</text>
<text transform="translate(125.03 497.76) scale(1 1.030)" font-size="67.0" font-weight="normal" font-style="normal">200</text>
<text transform="translate(125.03 713.19) scale(1 1.030)" font-size="67.0" font-weight="normal" font-style="normal">100</text>
<text transform="translate(199.55 928.62) scale(1 1.030)" font-size="67.0" font-weight="normal" font-style="normal">0</text>
<text transform="translate(102.72 1144.05) scale(1 1.030)" font-size="67.0" font-weight="normal" font-style="normal">-100</text>
<text transform="translate(102.72 1359.48) scale(1 1.030)" font-size="67.0" font-weight="normal" font-style="normal">-200</text>
<text transform="translate(102.72 1574.91) scale(1 1.030)" font-size="67.0" font-weight="normal" font-style="normal">-300</text>
<text transform="translate(369.33 1826.20) scale(1 1.030)" font-size="67.0" font-weight="normal" font-style="normal">250</text>
<text transform="translate(726.54 1826.20) scale(1 1.030)" font-size="67.0" font-weight="normal" font-style="normal">300</text>
<text transform="translate(1083.34 1826.20) scale(1 1.030)" font-size="67.0" font-weight="normal" font-style="normal">350</text>
<text transform="translate(1440.65 1826.20) scale(1 1.030)" font-size="67.0" font-weight="normal" font-style="normal">400</text>
<text transform="translate(798.83 1922.00) scale(1 1.040)" font-size="74.0" font-weight="normal" font-style="normal">B, mT</text>
<text transform="translate(85.90 1076.04) rotate(-90) scale(1 1.0)" font-size="72.5">dP/dB, a.u.</text>
<text transform="translate(294.67 213.00) scale(1 1.000)" font-size="67.0" font-weight="bold" font-style="italic">a</text>
<text transform="translate(299.95 598.10) scale(1 1.000)" font-size="67.0" font-weight="bold" font-style="italic">b</text>
<text transform="translate(303.14 956.30) scale(1 1.000)" font-size="67.0" font-weight="bold" font-style="italic">c</text>
<text transform="translate(312.30 1322.10) scale(1 1.000)" font-size="67.0" font-weight="bold" font-style="italic">d</text>
<text transform="translate(850.60 121.90) scale(1 1.070)" font-size="58.6" font-weight="bold" font-style="normal">g</text>
<text transform="translate(885.79 145.60) scale(1 1.000)" font-size="36.0" font-weight="bold" font-style="normal">I</text>
<rect x="885" y="148.6" width="11" height="4.2" fill="#000"/>
<text transform="translate(894.57 121.90) scale(1 1.070)" font-size="58.6" font-weight="bold" font-style="normal">=2.07</text>
<text transform="translate(384.90 468.70) scale(1 1.070)" font-size="58.6" font-weight="bold" font-style="normal">g</text>
<text transform="translate(419.49 492.90) scale(1 1.000)" font-size="36.0" font-weight="bold" font-style="normal">II</text>
<text transform="translate(438.57 468.70) scale(1 1.070)" font-size="58.6" font-weight="bold" font-style="normal">=2.33</text>
<text transform="translate(365.00 818.00) scale(1 1.070)" font-size="58.6" font-weight="bold" font-style="normal">g</text>
<text transform="translate(399.79 842.10) scale(1 1.000)" font-size="36.0" font-weight="bold" font-style="normal">II</text>
<text transform="translate(418.37 818.00) scale(1 1.070)" font-size="58.6" font-weight="bold" font-style="normal">=2.28</text>
<text transform="translate(373.50 1226.80) scale(1 1.070)" font-size="58.6" font-weight="bold" font-style="normal">g</text>
<text transform="translate(408.49 1250.70) scale(1 1.000)" font-size="36.0" font-weight="bold" font-style="normal">II</text>
<text transform="translate(427.27 1226.80) scale(1 1.070)" font-size="58.6" font-weight="bold" font-style="normal">=2.33</text>
<text transform="translate(624.64 469.00) scale(1 1.070)" font-size="58.6" font-weight="bold" font-style="normal">A</text>
<text transform="translate(664.59 492.60) scale(1 1.000)" font-size="36.0" font-weight="bold" font-style="normal">II</text>
<text transform="translate(683.67 469.00) scale(1 1.070)" font-size="58.6" font-weight="bold" font-style="normal">=13.8 mT</text>
<text transform="translate(616.74 815.10) scale(1 1.070)" font-size="58.6" font-weight="bold" font-style="normal">A</text>
<text transform="translate(656.49 838.80) scale(1 1.000)" font-size="36.0" font-weight="bold" font-style="normal">II</text>
<text transform="translate(675.97 815.10) scale(1 1.070)" font-size="58.6" font-weight="bold" font-style="normal">=16.5 mT</text>
<text transform="translate(624.64 1220.80) scale(1 1.070)" font-size="58.6" font-weight="bold" font-style="normal">A</text>
<text transform="translate(664.59 1244.60) scale(1 1.000)" font-size="36.0" font-weight="bold" font-style="normal">II</text>
<text transform="translate(683.67 1220.80) scale(1 1.070)" font-size="58.6" font-weight="bold" font-style="normal">=13.8 mT</text>
<text transform="translate(1155.21 202.20) scale(1 1.070)" font-size="58.6" font-weight="bold" font-style="normal">oxidized in O</text>
<text transform="translate(1519.05 226.00) scale(1 1.000)" font-size="36.0" font-weight="bold" font-style="normal">2</text>
<text transform="translate(1548.38 202.20) scale(1 1.070)" font-size="58.6" font-weight="bold" font-style="normal">atm.</text>
<text transform="translate(1166.31 507.30) scale(1 1.070)" font-size="58.6" font-weight="bold" font-style="normal">oxidized and</text>
<text transform="translate(1157.81 582.00) scale(1 1.070)" font-size="58.6" font-weight="bold" font-style="normal">evac. at 473 K</text>
<text transform="translate(1159.81 850.90) scale(1 1.070)" font-size="58.6" font-weight="bold" font-style="normal">oxidized and</text>
<text transform="translate(1151.31 926.60) scale(1 1.070)" font-size="58.6" font-weight="bold" font-style="normal">evac. at 573 K</text>
<text transform="translate(1164.74 1216.30) scale(1 1.070)" font-size="58.6" font-weight="bold" font-style="normal">reduced in CO</text>
<text transform="translate(1160.98 1291.00) scale(1 1.070)" font-size="58.6" font-weight="bold" font-style="normal">and evac. at 573 K</text>
<line shape-rendering="crispEdges" x1="312.9" y1="1574.8" x2="463.1" y2="1574.8" stroke="#0000a0" stroke-width="12" stroke-linecap="round"/>
<line shape-rendering="crispEdges" x1="311.6" y1="1658.4" x2="463.5" y2="1658.4" stroke="#ff8000" stroke-width="11.2" stroke-linecap="round"/>
<text transform="translate(525.97 1587.60) scale(1 1.070)" font-size="58.6" font-weight="bold" font-style="normal">2.3CuZ23(AE)</text>
<text transform="translate(531.76 1675.80) scale(1 1.070)" font-size="58.6" font-weight="bold" font-style="normal">3.1CuZ23(AE)</text>
</g></svg>
</body></html>
